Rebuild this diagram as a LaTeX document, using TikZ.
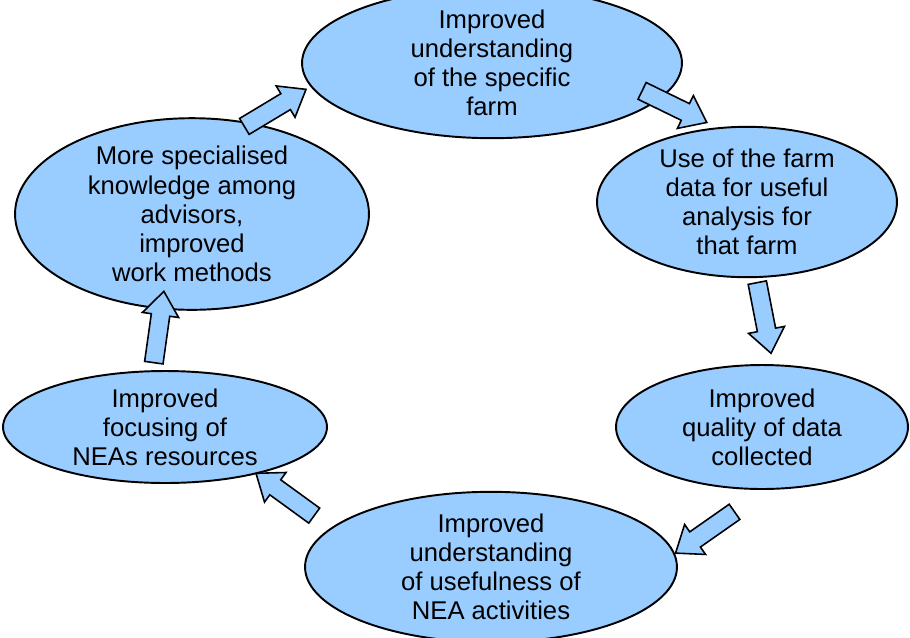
\documentclass[tikz,border=0pt]{standalone}
\usepackage{fontspec}
\setmainfont{Liberation Sans}
\usepackage{tikz}
\usetikzlibrary{shapes.geometric,shapes.arrows}
\definecolor{cyclefill}{HTML}{99CCFF}

\begin{document}
\begin{tikzpicture}[x=0.02cm, y=-0.02cm, font=\fontsize{14.6}{16.6}\selectfont,
  stage/.style={draw, ellipse, fill=cyclefill, line width=1.1pt, inner sep=0pt, align=center},
  turn/.style={draw, single arrow, fill=cyclefill, line width=0.9pt, inner xsep=0pt, inner ysep=1.7mm,
    minimum height=14.4mm, single arrow head extend=1.8mm, single arrow tip angle=75}]
  \useasboundingbox (0,0) rectangle (910,637);
  % the six stages of the cycle
  \node[stage, minimum width=7.6cm, minimum height=2.0cm] (farm) at (492,63) {Improved\\understanding\\of the specific\\farm};
  \node[stage, minimum width=6.0cm, minimum height=2.44cm] (data) at (747,202) {Use of the farm\\data for useful\\analysis for\\that farm};
  \node[stage, minimum width=5.84cm, minimum height=2.48cm] (quality) at (762,427) {Improved\\quality of data\\collected};
  \node[stage, minimum width=7.44cm, minimum height=2.64cm] (useful) at (491,567) {Improved\\understanding\\of usefulness of\\NEA activities};
  \node[stage, minimum width=6.48cm, minimum height=2.24cm] (focus) at (165,427) {Improved\\focusing of\\NEAs resources};
  \node[stage, minimum width=7.08cm, minimum height=3.16cm] (advisors) at (192,214) {More specialised\\knowledge among\\advisors,\\improved\\work methods};
  % block arrows between the stages
  \foreach \n/\x/\y/\a in {1/669/104/-26, 2/763/312/-79, 3/710/529/-145, 4/290/498/144, 5/158/333/82, 6/270/111/31}{
    \node[turn, rotate=\a] (turn\n) at (\x,\y) {};
  }
\end{tikzpicture}
\end{document}
